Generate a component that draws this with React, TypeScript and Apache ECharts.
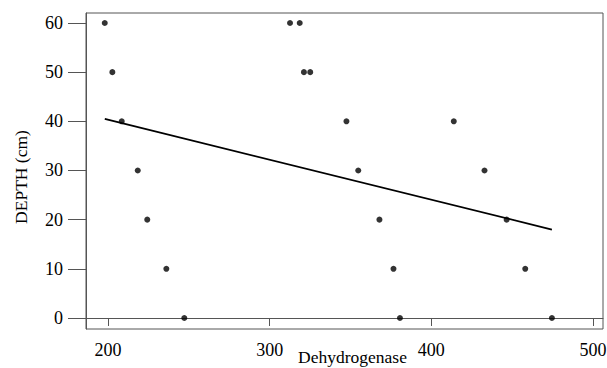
import React, { useEffect, useRef } from "react";
import * as echarts from "echarts";

// Dehydrogenase activity vs depth (three profiles)
const depthLevels = [60, 50, 40, 30, 20, 10, 0];
const profileA = [198, 202.7, 208.5, 218.4, 224.3, 236.1, 247.2];
const profileB = [312.6, 321.2, 347.5, 354.8, 367.9, 376.6, 380.6];
const profileC = [318.6, 325.1, 413.9, 432.9, 446.6, 458.1, 474.6];

const xTicks = [200, 300, 400, 500];
const yTicks = [0, 10, 20, 30, 40, 50, 60];

const FONT = "Liberation Serif";

function buildPoints(): number[][] {
  const pts: number[][] = [];
  [profileA, profileB, profileC].forEach((p) => {
    p.forEach((x, i) => pts.push([x, depthLevels[i]]));
  });
  return pts;
}

function leastSquares(pts: number[][]): number[][] {
  const n = pts.length;
  let sx = 0, sy = 0;
  pts.forEach(([x, y]) => { sx += x; sy += y; });
  const mx = sx / n, my = sy / n;
  let sxy = 0, sxx = 0;
  pts.forEach(([x, y]) => { sxy += (x - mx) * (y - my); sxx += (x - mx) * (x - mx); });
  const b = sxy / sxx;
  const a = my - b * mx;
  const xs = pts.map((p) => p[0]);
  const x0 = Math.min(...xs), x1 = Math.max(...xs);
  return [[x0, a + b * x0], [x1, a + b * x1]];
}

export default function App() {
  const ref = useRef<HTMLDivElement>(null);
  useEffect(() => {
    if (!ref.current) return;
    const chart = echarts.init(ref.current, undefined, { renderer: "svg" });
    const points = buildPoints();
    const fit = leastSquares(points);
    const axisColor = "#555";
    const labelStyle = { fontFamily: FONT, fontSize: 18, color: "#000" };
    chart.setOption({
      animation: false,
      backgroundColor: "#fff",
      textStyle: { fontFamily: FONT },
      grid: {
        left: 86, right: 4, top: 13, bottom: 39,
        outerBoundsMode: "none",
        containLabel: false,
        show: true, borderColor: axisColor, borderWidth: 1,
      },
      xAxis: {
        type: "value",
        min: 186.4,
        max: 506.2,
        name: "Dehydrogenase",
        nameLocation: "middle",
        nameGap: 19,
        nameMoveOverlap: false,
        nameTextStyle: { fontFamily: FONT, fontSize: 17.5, color: "#000", padding: [0, 0, 0, 16] },
        axisLine: { show: true, lineStyle: { color: axisColor } },
        axisTick: { show: true, length: 8, customValues: xTicks, lineStyle: { color: axisColor } },
        axisLabel: {
          customValues: xTicks, margin: 12, ...labelStyle,
          formatter: (v: number) => "{t|" + v + "}",
          rich: { t: labelStyle },
        },
        splitLine: { show: false },
      },
      yAxis: {
        type: "value",
        min: -2.24,
        max: 62.03,
        name: "DEPTH (cm)",
        nameLocation: "middle",
        nameGap: 56,
        nameRotate: 90,
        nameMoveOverlap: false,
        nameTextStyle: { fontFamily: FONT, fontSize: 17.5, color: "#000", padding: [0, 12, 0, 0] },
        axisLine: { show: true, lineStyle: { color: axisColor } },
        axisTick: { show: true, length: 18, customValues: yTicks, lineStyle: { color: axisColor } },
        axisLabel: {
          customValues: yTicks, margin: 23, ...labelStyle,
          formatter: (v: number) => "{t|" + v + "}",
          rich: { t: labelStyle },
        },
        splitLine: { show: false },
      },
      series: [
        {
          type: "scatter",
          data: points,
          symbol: "circle",
          symbolSize: 6,
          itemStyle: { color: "#000" },
          z: 3,
        },
        {
          type: "line",
          data: fit,
          showSymbol: false,
          symbol: "none",
          lineStyle: { color: "#000", width: 1.8 },
          z: 2,
        },
      ],
    });
    return () => chart.dispose();
  }, []);
  return (
    <div
      ref={ref}
      style={{ position: "absolute", left: 0, top: 0, width: 607, height: 368 }}
    />
  );
}
